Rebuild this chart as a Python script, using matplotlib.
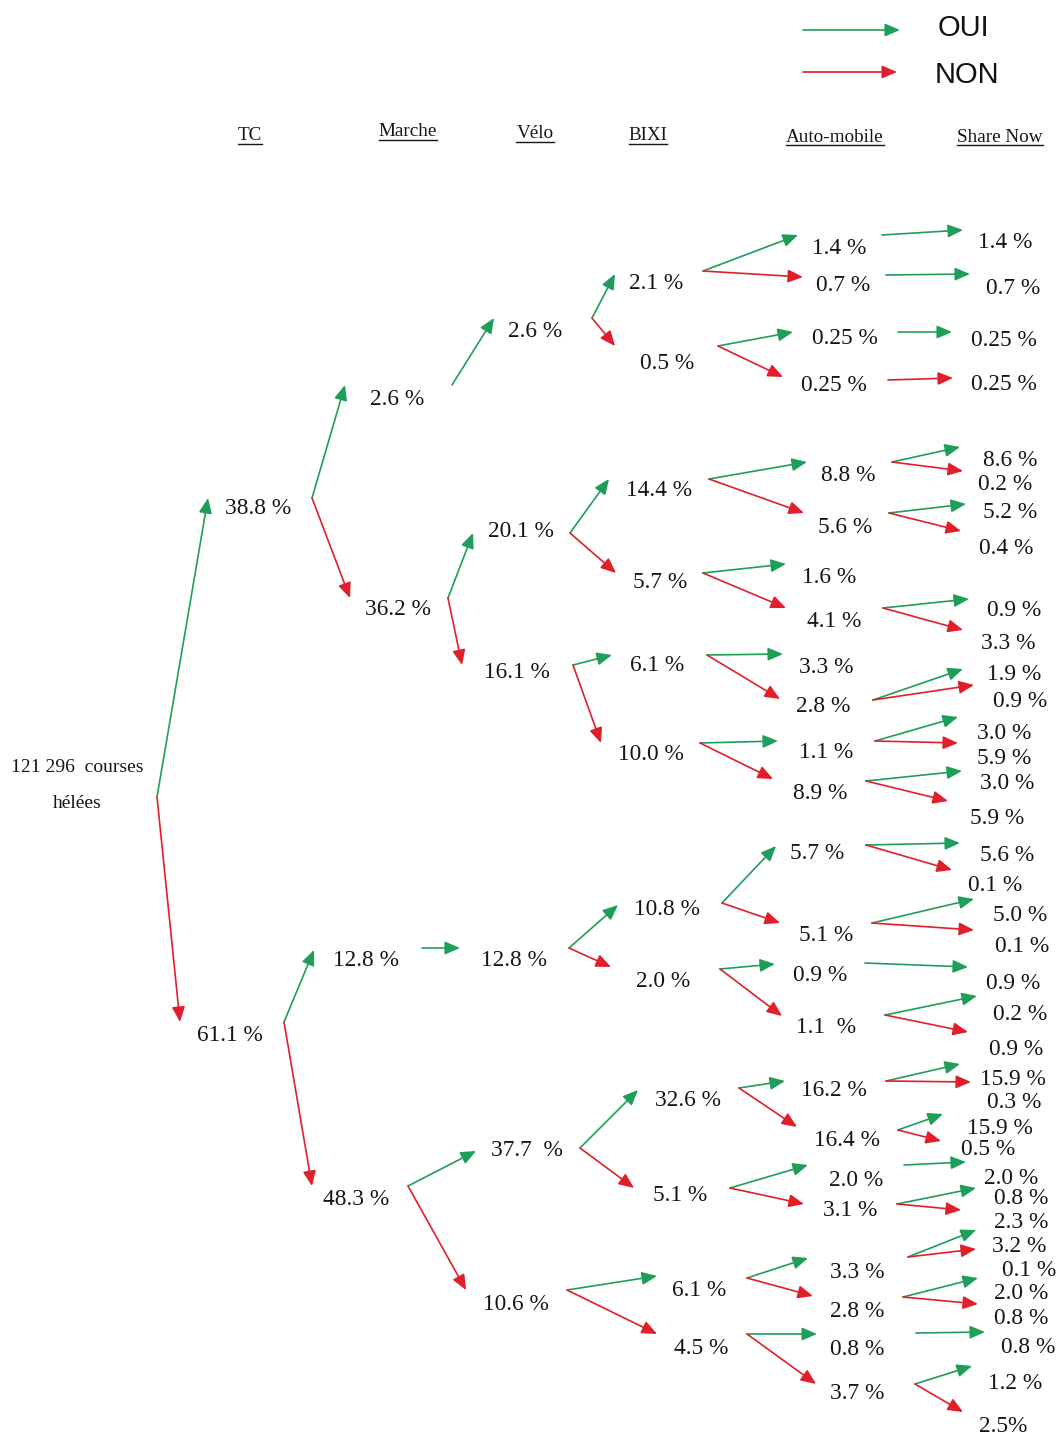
import matplotlib
matplotlib.use("Agg")
import matplotlib.pyplot as plt

# ---------------- DATA ----------------
root_label = "121 296  courses\nhélées"
column_titles = ["TC", "Marche", "Vélo", "BIXI", "Auto-mobile", "Share Now"]
legend_labels = ["OUI", "NON"]

# level 1 (TC)
l1_labels = ["38.8 %", "61.1 %"]
l1_parent = [0, 0]
l1_branch = ["OUI", "NON"]
# level 2 (Marche)
l2_labels = ["2.6 %", "36.2 %", "12.8 %", "48.3 %"]
l2_parent = [0, 0, 1, 1]
l2_branch = ["OUI", "NON", "OUI", "NON"]
# level 3 (Vélo)
l3_labels = ["2.6 %", "20.1 %", "16.1 %", "12.8 %", "37.7  %", "10.6 %"]
l3_parent = [0, 1, 1, 2, 3, 3]
l3_branch = ["OUI", "OUI", "NON", "OUI", "OUI", "NON"]
# level 4 (BIXI)
l4_labels = ["2.1 %", "0.5 %", "14.4 %", "5.7 %", "6.1 %", "10.0 %",
             "10.8 %", "2.0 %", "32.6 %", "5.1 %", "6.1 %", "4.5 %"]
l4_parent = [0, 0, 1, 1, 2, 2, 3, 3, 4, 4, 5, 5]
l4_branch = ["OUI", "NON"] * 6
# level 5 (Auto-mobile)
l5_labels = ["1.4 %", "0.7 %", "0.25 %", "0.25 %", "8.8 %", "5.6 %",
             "1.6 %", "4.1 %", "3.3 %", "2.8 %", "1.1 %", "8.9 %",
             "5.7 %", "5.1 %", "0.9 %", "1.1  %", "16.2 %", "16.4 %",
             "2.0 %", "3.1 %", "3.3 %", "2.8 %", "0.8 %", "3.7 %"]
l5_parent = [0, 0, 1, 1, 2, 2, 3, 3, 4, 4, 5, 5, 6, 6, 7, 7, 8, 8, 9, 9, 10, 10, 11, 11]
l5_branch = ["OUI", "NON"] * 12
# level 6 (Share Now)
l6_labels = ["1.4 %", "0.7 %", "0.25 %", "0.25 %", "8.6 %", "0.2 %", "5.2 %", "0.4 %",
             "0.9 %", "3.3 %", "1.9 %", "0.9 %", "3.0 %", "5.9 %", "3.0 %", "5.9 %",
             "5.6 %", "0.1 %", "5.0 %", "0.1 %", "0.9 %", "0.2 %", "0.9 %",
             "15.9 %", "0.3 %", "15.9 %", "0.5 %", "2.0 %", "0.8 %", "2.3 %",
             "3.2 %", "0.1 %", "2.0 %", "0.8 %", "0.8 %", "1.2 %", "2.5%"]
l6_parent = [0, 1, 2, 3, 4, 4, 5, 5, 7, 7, 9, 9, 10, 10, 11, 11, 12, 12, 13, 13,
             14, 15, 15, 16, 16, 17, 17, 18, 19, 19, 20, 20, 21, 21, 22, 23, 23]
l6_branch = ["OUI", "OUI", "OUI", "NON", "OUI", "NON", "OUI", "NON", "OUI", "NON",
             "OUI", "NON", "OUI", "NON", "OUI", "NON", "OUI", "NON", "OUI", "NON",
             "OUI", "OUI", "NON", "OUI", "NON", "OUI", "NON", "OUI", "OUI", "NON",
             "OUI", "NON", "OUI", "NON", "OUI", "OUI", "NON"]

# ---------------- LAYOUT (pixel positions) ----------------
root_text = [(77, 768), (77, 803)]
root_out = (157, 797)
title_pos = [(250, 136), (408, 132), (535, 134), (648, 136), (835, 137), (1000, 137)]
legend_arrow_y = [30, 72]
legend_arrow_x = [(803, 900), (803, 897)]
legend_text_pos = [(963, 28), (967, 75)]

l1_text = [(258, 506), (230, 1033)]
l1_tip = [(208, 498), (180, 1022)]
l1_out = [(312, 498), (284, 1022)]

l2_text = [(397, 397), (398, 607), (366, 958), (356, 1197)]
l2_tip = [(345, 385), (350, 598), (314, 950), (312, 1186)]
l2_out = [(452, 385), (448, 598), (422, 948), (408, 1186)]

l3_text = [(535, 329), (521, 529), (517, 670), (514, 958), (527, 1148), (516, 1302)]
l3_tip = [(494, 318), (473, 533), (462, 665), (460, 948), (476, 1151), (466, 1290)]
l3_out = [(592, 318), (570, 533), (573, 665), (569, 948), (580, 1148), (567, 1290)]

l4_text = [(656, 281), (667, 361), (659, 488), (660, 580), (657, 663), (651, 752),
           (667, 907), (663, 979), (688, 1098), (680, 1193), (699, 1288), (701, 1346)]
l4_tip = [(615, 274), (615, 346), (609, 479), (616, 573), (612, 655), (601, 743),
          (618, 905), (611, 967), (638, 1090), (634, 1188), (657, 1276), (657, 1334)]
l4_out = [(703, 271), (718, 346), (709, 479), (703, 573), (707, 655), (700, 743),
          (722, 903), (720, 969), (739, 1088), (730, 1188), (747, 1278), (747, 1334)]

l5_text = [(839, 246), (843, 283), (845, 336), (834, 383), (848, 473), (845, 525),
           (829, 575), (834, 619), (826, 665), (823, 704), (826, 750), (820, 791),
           (817, 851), (826, 933), (820, 973), (826, 1025), (834, 1088), (847, 1138),
           (856, 1178), (850, 1208), (857, 1270), (857, 1309), (857, 1347), (857, 1391)]
l5_tip = [(798, 235), (803, 277), (793, 332), (783, 377), (807, 462), (804, 513),
          (786, 564), (786, 608), (783, 654), (780, 699), (778, 741), (773, 779),
          (776, 846), (780, 923), (775, 964), (782, 1016), (785, 1081), (797, 1127),
          (808, 1165), (804, 1204), (808, 1258), (813, 1296), (817, 1334), (816, 1384)]
l5_out = [(882, 235), (886, 275), (898, 332), (888, 380), (892, 462), (889, 513),
          None, (883, 608), None, (873, 700), (875, 741), (866, 781),
          (866, 845), (872, 923), (865, 963), (885, 1015), (886, 1081), (898, 1130),
          (904, 1165), (897, 1204), (908, 1257), (903, 1297), (916, 1333), (915, 1384)]

l6_text = [(1005, 240), (1013, 286), (1004, 338), (1004, 382), (1010, 458), (1005, 482),
           (1010, 510), (1006, 546), (1014, 608), (1008, 641), (1014, 672), (1020, 699),
           (1004, 731), (1004, 756), (1007, 781), (997, 816), (1007, 853), (995, 883),
           (1020, 913), (1022, 944), (1013, 981), (1020, 1012), (1016, 1047),
           (1013, 1077), (1014, 1100), (1000, 1126), (988, 1147), (1011, 1176),
           (1021, 1196), (1021, 1220), (1019, 1244), (1029, 1268), (1021, 1291),
           (1021, 1316), (1028, 1345), (1015, 1381), (1003, 1424)]
l6_tip = [(963, 230), (970, 274), (952, 332), (953, 378), (960, 447), (963, 471),
          (966, 504), (961, 531), (969, 599), (963, 630), (963, 669), (974, 685),
          (958, 717), (958, 743), (962, 771), (948, 801), (960, 843), (952, 870),
          (974, 899), (974, 930), (968, 967), (977, 996), (968, 1032),
          (960, 1064), (971, 1082), (943, 1114), (941, 1141), (966, 1162),
          (976, 1188), (961, 1210), (976, 1230), (976, 1249), (978, 1278),
          (978, 1304), (985, 1332), (972, 1366), (963, 1412)]

# ---------------- STYLE ----------------
W, H = 1060, 1437
COLORS = {"OUI": "#1f9e5a", "NON": "#e01f2a"}
SERIF = ["Liberation Serif", "DejaVu Serif"]
NODE_FS = 16.8
TITLE_FS = 13.8
ROOT_FS = 14

fig = plt.figure(figsize=(W / 100, H / 100), dpi=100)
ax = fig.add_axes([0, 0, 1, 1])
ax.set_xlim(0, W)
ax.set_ylim(H, 0)
ax.axis("off")


def arrow(p0, p1, branch):
    ax.annotate("", xy=p1, xytext=p0,
                arrowprops=dict(arrowstyle="-|>,head_length=0.65,head_width=0.28",
                                mutation_scale=14, lw=1.2,
                                color=COLORS[branch], shrinkA=0, shrinkB=0))


def node_text(pos, s):
    ax.text(pos[0], pos[1], s, ha="center", va="center_baseline",
            fontsize=NODE_FS, family=SERIF, color="#151515")


# legend
for lab, y, (x0, x1), tp in zip(legend_labels, legend_arrow_y, legend_arrow_x, legend_text_pos):
    arrow((x0, y), (x1, y), lab)
    ax.text(tp[0], tp[1], lab, ha="center", va="center", fontsize=21,
            family=["Liberation Sans", "DejaVu Sans"], color="#111111")

# column titles (underlined)
title_objs = []
for t, pos in zip(column_titles, title_pos):
    title_objs.append(ax.text(pos[0], pos[1], t, ha="center", va="center",
                              fontsize=TITLE_FS, family=SERIF, color="#151515"))

# root
root_lines = root_label.split("\n")
for s, pos in zip(root_lines, root_text):
    ax.text(pos[0], pos[1], s, ha="center", va="center", fontsize=ROOT_FS,
            family=SERIF, color="#151515")

levels = [
    (l1_labels, l1_parent, l1_branch, l1_text, l1_tip, l1_out),
    (l2_labels, l2_parent, l2_branch, l2_text, l2_tip, l2_out),
    (l3_labels, l3_parent, l3_branch, l3_text, l3_tip, l3_out),
    (l4_labels, l4_parent, l4_branch, l4_text, l4_tip, l4_out),
    (l5_labels, l5_parent, l5_branch, l5_text, l5_tip, l5_out),
    (l6_labels, l6_parent, l6_branch, l6_text, l6_tip, None),
]

prev_out = [root_out]
for labels, parents, branches, texts, tips, outs in levels:
    for lab, par, br, tp, tip in zip(labels, parents, branches, texts, tips):
        start = prev_out[par]
        if start is not None:
            arrow(start, tip, br)
        node_text(tp, lab)
    prev_out = outs

# underline titles using their rendered extents
fig.canvas.draw()
renderer = fig.canvas.get_renderer()
inv = ax.transData.inverted()
for t in title_objs:
    bb = t.get_window_extent(renderer)
    (x0, y0), (x1, y1) = inv.transform([(bb.x0, bb.y0), (bb.x1, bb.y1)])
    ybot = max(y0, y1) - 1
    ax.plot([x0, x1], [ybot, ybot], color="#151515", lw=1.0)

fig.savefig("out.png", dpi=100, facecolor="white")
